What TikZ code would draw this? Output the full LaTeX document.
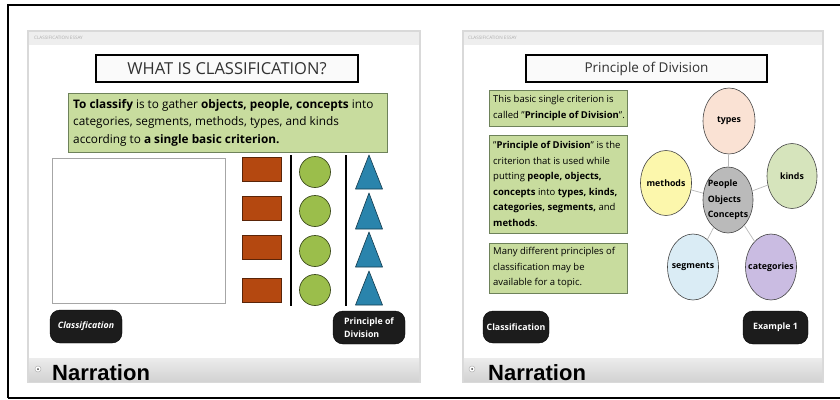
\documentclass[tikz,border=0pt]{standalone}
\usepackage{fontspec}
\setmainfont{Open Sans}
\newfontfamily\narrfont{Liberation Sans}
\usetikzlibrary{shapes.geometric}
\definecolor{boxgreen}{RGB}{200,220,158}
\definecolor{boxgreenline}{RGB}{110,130,90}
\definecolor{mybrown}{RGB}{180,72,16}
\definecolor{ballgreen}{RGB}{155,190,75}
\definecolor{triblue}{RGB}{42,132,172}
\definecolor{btnblack}{RGB}{28,28,28}
\definecolor{titlegray}{RGB}{50,50,50}
\definecolor{ftypes}{RGB}{250,226,212}
\definecolor{fkinds}{RGB}{214,228,188}
\definecolor{fmethods}{RGB}{252,247,172}
\definecolor{fcenter}{RGB}{186,186,186}
\definecolor{fsegments}{RGB}{218,236,245}
\definecolor{fcategories}{RGB}{202,188,226}
\begin{document}
\begin{tikzpicture}[x=1pt,y=-1pt]
\tikzset{
 slidepanel/.style={fill=white, draw=gray!30, line width=1.5pt},
 headbar/.style={fill=gray!13, draw=none},
 narbar/.style={top color=gray!15, bottom color=gray!35, draw=none},
 essay/.style={anchor=west, inner sep=0, text=gray!65, font=\fontsize{4.6}{5}\selectfont},
 titlebox/.style={draw=black, line width=1.1pt, fill=gray!4, minimum height=27pt, inner sep=0, text=titlegray},
 gbox/.style={draw=boxgreenline, fill=boxgreen, line width=0.6pt, inner sep=0},
 gtext/.style={anchor=west, align=left, inner sep=0},
 rtext/.style={anchor=west, align=left, inner sep=0, font=\fontsize{9.5}{15.5}\selectfont},
 btn/.style={fill=btnblack, draw=black, rounded corners=10pt, text=white, align=left, inner sep=0, font=\bfseries\fontsize{8.8}{13}\selectfont},
 brick/.style={fill=mybrown, draw=mybrown!50!black, line width=0.6pt, minimum width=39pt, minimum height=24pt, inner sep=0},
 ball/.style={circle, fill=ballgreen, draw=ballgreen!40!black, line width=0.7pt, minimum size=31pt, inner sep=0},
 tri/.style={fill=triblue, draw=triblue!45!black, line width=0.6pt, line join=round},
 divider/.style={line width=1.2pt, black},
 bubble/.style={ellipse, draw=gray!55!black, line width=0.6pt, inner sep=0, label={[font=\bfseries\fontsize{8.8}{15.5}\selectfont, align=left]center:#1}},
 conn/.style={gray!55, line width=0.7pt},
 narr/.style={anchor=base west, inner sep=0, font=\narrfont\bfseries\fontsize{22}{24}\selectfont},
 bulletic/.style={circle, fill=white, draw=gray!60, line width=0.5pt, minimum size=6pt, inner sep=0},
}
\useasboundingbox (0,0) rectangle (840,399);
\fill[white] (0,0) rectangle (840,399);
% outer frame
\draw[line width=1.6pt] (8,398) -- (8,5) -- (841,5);
\draw[line width=1.6pt] (8,398) -- (841,398);

% ================= LEFT SLIDE =================
\draw[slidepanel] (28,31) rectangle (420,382);
\fill[headbar] (28.8,31.8) rectangle (419.2,45);
\node[essay] (lessay) at (34,37.5) {CLASSIFICATION ESSAY};
\fill[narbar] (28.8,358) rectangle (419.2,381.2);
\node[bulletic] (lbul) at (38,369) {};
\fill[gray!50!black] (lbul.center) circle (1pt);
\node[narr] (lnarr) at (52,380) {Narration};

\node[titlebox, minimum width=262pt, font=\fontsize{16.5}{18}\selectfont] (ltitle) at (227,68.5) {WHAT IS CLASSIFICATION?};

\node[gbox, minimum width=319pt, minimum height=59pt] (lgbox) at (227.5,122.5) {};
\node[gtext, font=\fontsize{11.8}{17.5}\selectfont] (lgtext) at (73,122.5)
 {\textbf{To classify} is to gather \textbf{objects, people, concepts} into\\
  categories, segments, methods, types, and kinds\\
  according to \textbf{a single basic criterion.}};

\draw[gray!70, line width=0.8pt] (52,158) rectangle (225,303);

\node[brick] (r1) at (261.5,169.5) {};
\node[brick] (r2) at (261.5,208) {};
\node[brick] (r3) at (261.5,247.5) {};
\node[brick] (r4) at (261.5,290.5) {};

\draw[divider] (291,155) -- (291,306);
\draw[divider] (346,155) -- (346,306);

\node[ball] (c1) at (315,172) {};
\node[ball] (c2) at (315,211) {};
\node[ball] (c3) at (315,251) {};
\node[ball] (c4) at (315,290) {};

\draw[tri] (369,155) -- (382.5,189) -- (355.5,189) -- cycle;
\draw[tri] (369,193) -- (382.5,229) -- (355.5,229) -- cycle;
\draw[tri] (369,232) -- (382.5,267) -- (355.5,267) -- cycle;
\draw[tri] (369,271) -- (382.5,305) -- (355.5,305) -- cycle;

\node[btn, minimum width=72pt, minimum height=33pt] (lbtn1) at (86,326.5) {\itshape Classification};
\node[btn, minimum width=72pt, minimum height=33pt] (lbtn2) at (369,327.5) {Principle of\\Division};

% ================= RIGHT SLIDE =================
\draw[slidepanel] (463,31) rectangle (823,382);
\fill[headbar] (463.8,31.8) rectangle (822.2,45);
\node[essay] (ressay) at (468,37.5) {CLASSIFICATION ESSAY};
\fill[narbar] (463.8,358) rectangle (822.2,381.2);
\node[bulletic] (rbul) at (472,369) {};
\fill[gray!50!black] (rbul.center) circle (1pt);
\node[narr] (rnarr) at (488,380) {Narration};

\node[titlebox, minimum width=241pt, font=\fontsize{13.5}{16}\selectfont] (rtitle) at (646.5,68.5) {Principle of Division};

\node[gbox, minimum width=138pt, minimum height=36pt] (rb1) at (558,108) {};
\node[rtext] (rt1) at (493,108)
 {This basic single criterion is\\called "\textbf{Principle of Division}".};

\node[gbox, minimum width=138pt, minimum height=98pt] (rb2) at (558,184) {};
\node[rtext] (rt2) at (493,184)
 {"\textbf{Principle of Division}" is the\\
  criterion that is used while\\
  putting \textbf{people, objects,}\\
  \textbf{concepts} into \textbf{types, kinds,}\\
  \textbf{categories, segments,} and\\
  \textbf{methods}.};

\node[gbox, minimum width=138pt, minimum height=50pt] (rb3) at (558,268) {};
\node[rtext] (rt3) at (493,268)
 {Many different principles of\\classification may be\\available for a topic.};

% bubble diagram
\node[bubble={People\\Objects\\Concepts}, fill=fcenter, minimum width=50pt, minimum height=66pt] (ctr) at (728,200) {};
\node[bubble=types, fill=ftypes, minimum width=52pt, minimum height=66pt] (types) at (729,121) {};
\node[bubble=kinds, fill=fkinds, minimum width=50pt, minimum height=65pt] (kinds) at (792,176) {};
\node[bubble=methods, fill=fmethods, minimum width=51pt, minimum height=65pt] (methods) at (666,183) {};
\node[bubble=segments, fill=fsegments, minimum width=51pt, minimum height=66pt] (segments) at (693,267) {};
\node[bubble=categories, fill=fcategories, minimum width=51pt, minimum height=66pt] (categories) at (771,267) {};
\draw[conn] (ctr) -- (types);
\draw[conn] (ctr) -- (kinds);
\draw[conn] (ctr) -- (methods);
\draw[conn] (ctr) -- (segments);
\draw[conn] (ctr) -- (categories);

\node[btn, minimum width=66pt, minimum height=32pt] (rbtn1) at (516,327) {Classification};
\node[btn, minimum width=65pt, minimum height=33pt] (rbtn2) at (775.5,327.5) {Example 1};
\end{tikzpicture}
\end{document}
